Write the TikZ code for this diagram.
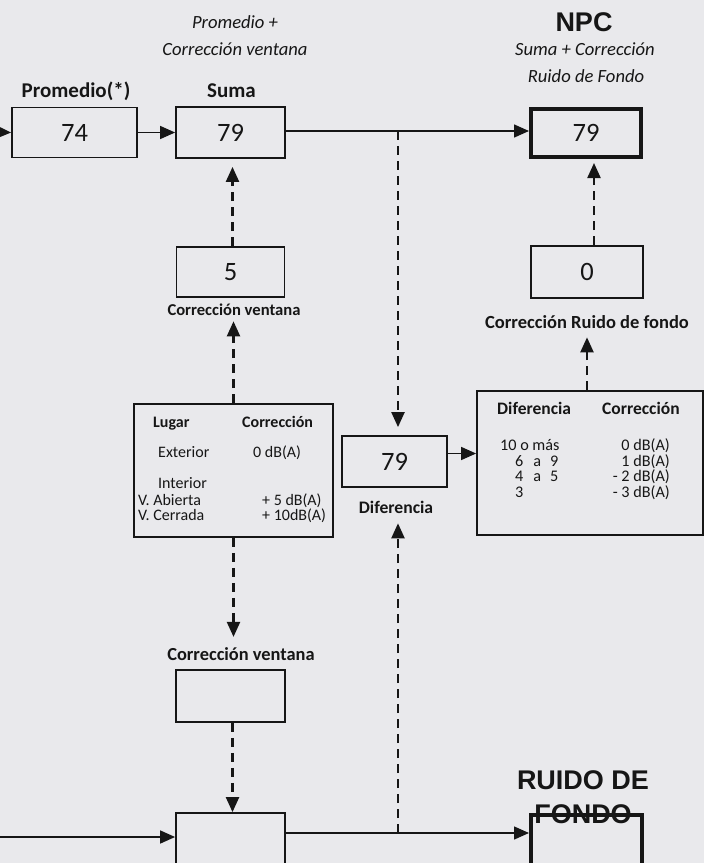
\documentclass[tikz,border=0pt]{standalone}
\usepackage{fontspec}
\setmainfont{Carlito}
\newfontfamily\arialf{Liberation Sans}
\usetikzlibrary{arrows.meta}
\definecolor{paper}{RGB}{233,233,236}
\definecolor{ink}{RGB}{22,22,22}
\begin{document}
\begin{tikzpicture}[x=1pt,y=-1pt,
  box/.style={draw=ink, line width=1.8pt, inner sep=0pt, text=ink, font=\fontsize{26.5}{26.5}\selectfont},
  thickbox/.style={box, line width=4pt},
  arr/.style={draw=ink, line width=1.5pt, -{Triangle[length=15pt,width=13pt]}},
  darr/.style={arr, line width=2.2pt, dash pattern=on 9pt off 6pt},
  lbl/.style={text=ink, font=\bfseries\fontsize{16.6}{16.6}\selectfont, inner sep=0pt, anchor=base},
  ital/.style={text=ink, font=\itshape\fontsize{18.6}{18.6}\selectfont, inner sep=0pt, anchor=base},
  head/.style={text=ink, font=\arialf\bfseries\fontsize{27}{27}\selectfont, inner sep=0pt, anchor=base},
  tab/.style={text=ink, font=\fontsize{16}{16}\selectfont, inner sep=0pt, anchor=base west},
  tabh/.style={tab, font=\bfseries\fontsize{16}{16}\selectfont},
  rtb/.style={tab, font=\fontsize{16.2}{16.2}\selectfont},
  rtbh/.style={tab, font=\bfseries\fontsize{17.5}{17.5}\selectfont}]
\useasboundingbox (0,0) rectangle (704,863);
\fill[paper] (0,0) rectangle (704,863);
\clip (0,0) rectangle (704,863);

% boxes
\node[box, minimum width=125pt, minimum height=50pt] (b74) at (74.5,132.5) {74};
\node[box, minimum width=109pt, minimum height=51pt] (suma) at (230.5,132.5) {79};
\node[thickbox, minimum width=110pt, minimum height=48pt] (npc) at (586,133) {79};
\node[box, minimum width=108pt, minimum height=50pt] (b5) at (230.5,272) {5};
\node[box, minimum width=112pt, minimum height=52pt] (b0) at (587,272) {0};
\node[box, minimum width=199pt, minimum height=133pt] (ltab) at (233.5,470.5) {};
\node[box, minimum width=105pt, minimum height=51pt] (dif) at (394.5,461.5) {79};
\node[box, minimum width=226pt, minimum height=144pt] (rtab) at (590,463) {};
\node[box, minimum width=109pt, minimum height=52pt] (blow) at (230.5,696) {};
\node[box, minimum width=109pt, minimum height=70pt] (bbot) at (230.5,848) {};
\node[thickbox, minimum width=111pt, minimum height=70pt] (ruido) at (586.5,850) {};

% labels
\node[lbl, font=\bfseries\fontsize{21}{21}\selectfont] (lprom) at (76,97) {Promedio(*)};
\node[lbl, font=\bfseries\fontsize{21}{21}\selectfont] (lsuma) at (231.5,97) {Suma};
\node[ital] (ipro1) at (235,28) {Promedio +};
\node[ital] (ipro2) at (235,55) {Corrección ventana};
\node[head] (hnpc) at (584,31) {NPC};
\node[ital] (inpc1) at (585,55) {Suma + Corrección};
\node[ital] (inpc2) at (586,82) {Ruido de Fondo};
\node[lbl] (lcv) at (234,315) {Corrección ventana};
\node[lbl, font=\bfseries\fontsize{18.5}{18.5}\selectfont] (lcrf) at (587,328) {Corrección Ruido de fondo};
\node[lbl, font=\bfseries\fontsize{17.6}{17.6}\selectfont] (ldif) at (396,513) {Diferencia};
\node[lbl, font=\bfseries\fontsize{18.4}{18.4}\selectfont] (lcv2) at (241,660) {Corrección ventana};
\node[head] (hr1) at (583,789) {RUIDO DE};
\node[head] (hr2) at (583,823) {FONDO};

% left table
\node[tabh] (t1) at (153,427) {Lugar};
\node[tabh] (t2) at (242,427) {Corrección};
\node[tab] (t3) at (158,457) {Exterior};
\node[tab] (t4) at (253,457) {0 dB(A)};
\node[tab] (t5) at (158,488) {Interior};
\node[tab] (t6) at (138,505) {V. Abierta};
\node[tab] (t7) at (262,505) {+ 5 dB(A)};
\node[tab] (t8) at (138,520) {V. Cerrada};
\node[tab] (t9) at (262,520) {+ 10dB(A)};

% right table
\node[rtbh] (r1) at (497,414) {Diferencia};
\node[rtbh] (r2) at (602,414) {Corrección};
\node[rtb] (r3) at (500,450.5) {10 o más};
\node[rtb] (r4) at (515,466) {6\hspace{10pt}a\hspace{9pt}9};
\node[rtb] (r5) at (515,481.5) {4\hspace{10pt}a\hspace{9pt}5};
\node[rtb] (r6) at (515,497) {3};
\node[rtb, anchor=base east] (r7) at (670,450.5) {0 dB(A)};
\node[rtb, anchor=base east] (r8) at (670,466) {1 dB(A)};
\node[rtb, anchor=base east] (r9) at (670,481.5) {- 2 dB(A)};
\node[rtb, anchor=base east] (r10) at (670,497) {- 3 dB(A)};

% connectors
\coordinate (in1) at (-5,132);
\coordinate (in2) at (-5,837);
\coordinate (j1) at (398,131);
\coordinate (j2) at (398,833);
\draw[arr] (in1) -- (b74.west);
\draw[arr] (b74.east) -- (suma.west);
\draw[arr] (suma.east |- j1) -- (npc.west |- j1);
\draw[darr, shorten >=8pt] (j1) -- (j1 |- dif.north);
\draw[arr] ([yshift=8pt]dif.east) -- ([yshift=8pt]dif.east -| rtab.west);
\draw[darr, shorten >=4pt] ([xshift=7pt]b0.north) -- ([xshift=7pt]b0.north |- npc.south);
\draw[darr, shorten >=9pt] (rtab.north -| b0.south) -- (b0.south |- lcrf.south);
\draw[darr, shorten >=8pt] ([xshift=2pt]b5.north) -- ([xshift=2pt]b5.north |- suma.south);
\draw[darr, shorten >=6pt] (ltab.north) -- (ltab.north |- lcv.south);
\draw[darr, shorten >=10pt] (ltab.south) -- (ltab.south |- lcv2.north);
\draw[darr] ([xshift=2pt]blow.south) -- ([xshift=2pt]blow.south |- bbot.north);
\draw[arr] (in2) -- (in2 -| bbot.west);
\draw[arr] (j2 -| bbot.east) -- (j2 -| ruido.west);
\draw[darr, shorten >=10pt] (j2) -- (j2 |- ldif.south);
\end{tikzpicture}
\end{document}
